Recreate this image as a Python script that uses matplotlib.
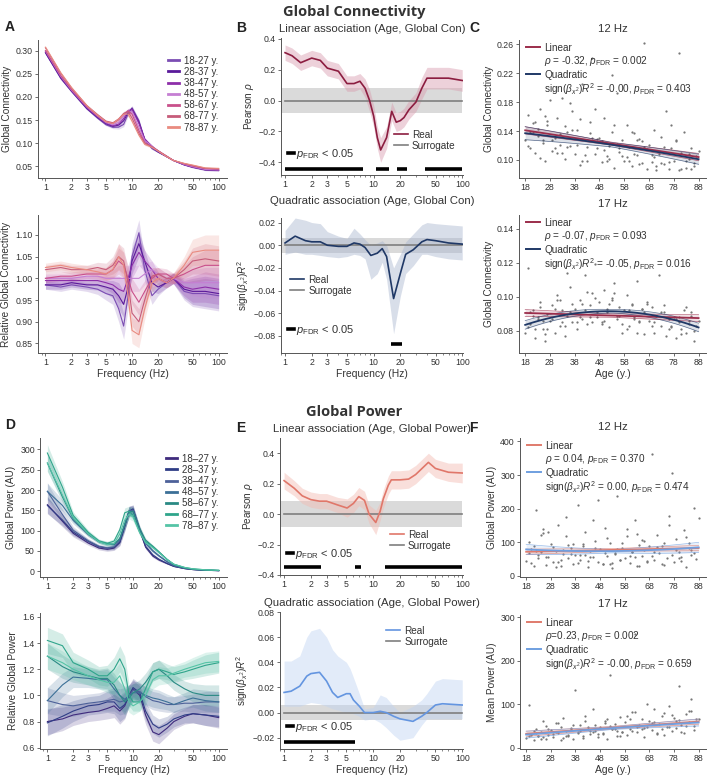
import numpy as np
import matplotlib
matplotlib.use("Agg")
import matplotlib.pyplot as plt
from matplotlib.lines import Line2D
from matplotlib.ticker import FixedLocator, FuncFormatter, NullFormatter, LogLocator

# ---------------- data ----------------
freqs = [1, 1.5, 2, 3, 4, 5, 6, 7, 8, 9, 10, 12, 14, 17, 20, 25, 30, 40, 50, 70, 100]
groups_con = ["18-27 y.", "28-37 y.", "38-47 y.", "48-57 y.", "58-67 y.", "68-77 y.", "78-87 y."]
groups_pow = ["18\u201327 y.", "28\u201337 y.", "38\u201347 y.", "48\u201357 y.", "58\u201367 y.", "68\u201377 y.", "78\u201387 y."]

con_mean = [0.30, 0.245, 0.215, 0.178, 0.158, 0.145, 0.14, 0.145, 0.158, 0.17, 0.168,
            0.135, 0.105, 0.092, 0.083, 0.072, 0.063, 0.055, 0.05, 0.044, 0.043]
con_rel = [
    [0.985, 0.98, 0.985, 0.98, 0.975, 0.965, 0.96, 0.93, 0.89, 0.96, 1.05, 1.105, 1.02, 0.96, 0.975, 0.99, 1.0, 0.97, 0.965, 0.965, 0.96],
    [0.985, 0.985, 0.99, 0.985, 0.985, 0.98, 0.975, 0.96, 0.94, 0.98, 1.04, 1.08, 1.04, 0.99, 0.98, 0.99, 1.0, 0.975, 0.97, 0.97, 0.965],
    [0.995, 0.995, 0.995, 0.995, 0.995, 0.99, 0.985, 0.975, 0.97, 1.0, 1.03, 1.06, 1.04, 1.02, 1.0, 0.99, 1.0, 0.98, 0.975, 0.98, 0.975],
    [1.0, 1.0, 1.0, 1.005, 1.005, 1.0, 1.0, 1.0, 1.0, 1.0, 1.0, 1.0, 1.01, 1.02, 1.01, 1.0, 1.0, 0.99, 0.99, 0.99, 0.99],
    [1.0, 1.005, 1.005, 1.01, 1.01, 1.01, 1.02, 1.04, 1.03, 1.0, 0.97, 0.945, 0.97, 1.0, 1.01, 1.01, 1.0, 1.01, 1.02, 1.03, 1.03],
    [1.02, 1.025, 1.02, 1.02, 1.025, 1.02, 1.03, 1.05, 1.04, 0.99, 0.92, 0.90, 0.95, 1.005, 1.01, 1.0, 1.0, 1.02, 1.04, 1.045, 1.04],
    [1.025, 1.03, 1.025, 1.02, 1.015, 1.01, 1.02, 1.05, 1.03, 0.96, 0.88, 0.87, 0.93, 0.99, 1.0, 0.99, 1.0, 1.03, 1.06, 1.065, 1.065],
]
con_rel_err = [0.01, 0.01, 0.01, 0.01, 0.012, 0.015, 0.02, 0.03, 0.03, 0.03, 0.03,
               0.03, 0.025, 0.02, 0.015, 0.012, 0.012, 0.02, 0.03, 0.035, 0.035]

pow_mean = [205, 150, 110, 80, 65, 60, 62, 80, 120, 148, 145, 100, 70, 52, 40, 25, 15, 8, 5, 3, 2]
pow_rel = [
    [0.80, 0.82, 0.85, 0.87, 0.88, 0.90, 0.92, 0.88, 0.92, 1.0, 1.05, 1.0, 0.85, 0.72, 0.70, 0.75, 0.80, 0.84, 0.86, 0.85, 0.83],
    [0.79, 0.84, 0.88, 0.92, 0.93, 0.95, 0.95, 0.90, 0.93, 1.0, 1.06, 1.02, 0.88, 0.78, 0.75, 0.78, 0.82, 0.85, 0.86, 0.85, 0.84],
    [0.96, 0.93, 0.92, 0.94, 0.95, 0.96, 0.97, 0.95, 0.96, 1.0, 1.04, 1.03, 0.99, 0.96, 0.95, 0.93, 0.93, 0.94, 0.94, 0.95, 0.95],
    [0.96, 1.08, 1.14, 1.13, 1.12, 1.12, 1.05, 1.0, 0.97, 1.0, 1.02, 1.02, 1.0, 0.98, 0.97, 0.95, 0.93, 0.96, 0.98, 0.96, 0.95],
    [1.3, 1.22, 1.18, 1.15, 1.13, 1.13, 1.08, 1.0, 0.95, 0.98, 1.02, 1.05, 1.1, 1.18, 1.2, 1.15, 1.1, 1.05, 1.02, 1.0, 1.0],
    [1.42, 1.38, 1.25, 1.2, 1.15, 1.15, 1.2, 1.28, 1.2, 1.0, 0.95, 0.95, 1.05, 1.18, 1.2, 1.18, 1.16, 1.18, 1.2, 1.23, 1.25],
    [1.3, 1.25, 1.2, 1.15, 1.12, 1.1, 1.1, 1.15, 1.05, 0.95, 0.92, 0.95, 1.0, 1.12, 1.15, 1.15, 1.17, 1.2, 1.22, 1.25, 1.26],
]
pow_rel_err = [0.1, 0.09, 0.08, 0.07, 0.07, 0.08, 0.09, 0.1, 0.1, 0.08, 0.07,
               0.07, 0.07, 0.07, 0.07, 0.06, 0.06, 0.06, 0.07, 0.08, 0.08]

# linear association, connectivity
f_lin_con = [1, 1.2, 1.5, 2, 2.5, 3, 4, 5, 6, 7, 8, 9, 10, 11, 12, 14, 16, 18, 20, 22, 25, 30, 35, 40, 50, 70, 100]
rho_con = [0.31, 0.29, 0.245, 0.275, 0.26, 0.21, 0.19, 0.11, 0.11, 0.125, 0.08, 0.0, -0.1, -0.24, -0.32,
           -0.24, -0.07, -0.14, -0.13, -0.11, -0.06, -0.01, 0.08, 0.145, 0.145, 0.145, 0.13]
rho_con_err = [0.05, 0.05, 0.05, 0.05, 0.05, 0.05, 0.05, 0.05, 0.05, 0.05, 0.06, 0.07, 0.07, 0.07, 0.08,
               0.07, 0.06, 0.06, 0.06, 0.06, 0.06, 0.06, 0.07, 0.07, 0.07, 0.07, 0.07]
surr_lin_con = 0.08
sig_lin_con = [(1, 7.5), (10.5, 15), (18.5, 24), (38, 100)]

# quadratic association, connectivity
f_quad_con = [1, 1.3, 1.7, 2, 2.5, 3, 4, 5, 6, 7, 8, 9.3, 11, 12.5, 14, 16.8, 20, 23, 28, 35, 40, 50, 70, 100]
r2_con = [0.002, 0.008, 0.004, 0.003, 0.003, 0.0, -0.001, -0.001, 0.002, 0.001, -0.002, -0.009,
          -0.007, -0.003, -0.01, -0.047, -0.025, -0.008, -0.004, 0.003, 0.005, 0.004, 0.002, 0.001]
r2_con_hi = [0.013, 0.024, 0.022, 0.02, 0.019, 0.012, 0.008, 0.006, 0.015, 0.01, 0.005, 0.0,
             0.002, 0.004, 0.0, -0.02, -0.008, 0.003, 0.01, 0.018, 0.02, 0.019, 0.018, 0.017]
r2_con_lo = [-0.008, -0.006, -0.008, -0.008, -0.009, -0.01, -0.011, -0.01, -0.008, -0.009, -0.012, -0.03,
             -0.025, -0.015, -0.03, -0.078, -0.045, -0.025, -0.018, -0.008, -0.008, -0.01, -0.012, -0.013]
surr_quad_con = 0.0065
sig_quad_con = [(15.5, 21)]

# linear association, power
f_lin_pow = [1, 1.3, 1.6, 2, 2.5, 3, 4, 5.1, 6, 6.9, 8, 9, 10.7, 12, 13, 14.8, 16, 20, 25, 30, 41.7, 50, 70, 100]
rho_pow = [0.22, 0.17, 0.12, 0.095, 0.085, 0.085, 0.06, 0.04, 0.07, 0.115, 0.09, 0.0, -0.055, 0.02,
           0.1, 0.19, 0.225, 0.225, 0.23, 0.26, 0.34, 0.30, 0.275, 0.27]
rho_pow_err = [0.055, 0.05, 0.05, 0.05, 0.05, 0.05, 0.05, 0.06, 0.06, 0.06, 0.06, 0.06, 0.08, 0.06,
               0.06, 0.06, 0.06, 0.06, 0.06, 0.06, 0.06, 0.06, 0.06, 0.065]
surr_lin_pow = 0.085
sig_lin_pow = [(1, 2.6), (6.3, 7.3), (13.5, 100)]

# quadratic association, power
f_quad_pow = [1, 1.2, 1.5, 1.8, 2, 2.5, 3, 3.5, 4, 5, 5.5, 6, 7, 8, 10, 12, 14, 17, 20, 28, 35, 40, 50, 60, 100]
r2_pow = [0.016, 0.017, 0.021, 0.029, 0.031, 0.032, 0.025, 0.016, 0.012, 0.015, 0.015, 0.01, 0.005,
          0.0, 0.0, 0.001, 0.0, -0.003, -0.005, -0.007, -0.003, 0.0, 0.006, 0.007, 0.006]
r2_pow_hi = [0.041, 0.041, 0.045, 0.06, 0.065, 0.067, 0.06, 0.05, 0.045, 0.04, 0.035, 0.028, 0.015,
             0.003, 0.004, 0.014, 0.012, 0.005, 0.0, 0.005, 0.01, 0.015, 0.025, 0.027, 0.026]
r2_pow_lo = [0.005, 0.005, 0.005, 0.007, 0.008, 0.007, 0.005, 0.003, 0.002, 0.0, 0.0, -0.001, -0.003,
             -0.006, -0.005, -0.008, -0.012, -0.018, -0.022, -0.02, -0.01, -0.005, -0.005, -0.005, -0.005]
surr_quad_pow = 0.006
sig_quad_pow = [(1, 6.3)]

# participants (same people in all scatter panels)
ages = [18, 19, 20, 21, 22, 23, 24, 25, 26, 27,
        28, 29, 30, 31, 32, 33, 34, 35, 36, 37,
        38, 39, 40, 41, 42, 43, 44, 45, 46, 47,
        48, 49, 50, 51, 52, 53, 54, 55, 56, 57,
        58, 59, 60, 61, 62, 63, 64, 65, 66, 67,
        68, 69, 70, 71, 72, 73, 74, 75, 76, 77,
        78, 79, 80, 81, 82, 83, 84, 85, 86, 87,
        19, 21, 24, 26, 29, 31, 34, 36, 39, 41,
        44, 46, 49, 51, 54, 56, 59, 61, 64, 66,
        69, 71, 74, 76, 79, 81, 84, 86, 88, 20,
        23, 27, 30, 33, 37, 40, 43, 47, 50, 53,
        57, 60, 63, 67, 70, 73, 77, 80, 83, 85,
        22, 25, 32, 35, 42, 45, 52, 55, 62, 65]
con_12hz = [0.128, 0.162, 0.117, 0.151, 0.109, 0.143, 0.171, 0.124, 0.098, 0.154,
            0.183, 0.112, 0.131, 0.158, 0.121, 0.186, 0.101, 0.139, 0.119, 0.168,
            0.108, 0.142, 0.093, 0.205, 0.127, 0.118, 0.152, 0.241, 0.171, 0.116,
            0.131, 0.097, 0.158, 0.106, 0.119, 0.138, 0.089, 0.192, 0.111, 0.127,
            0.099, 0.148, 0.118, 0.091, 0.137, 0.107, 0.129, 0.096, 0.262, 0.088,
            0.121, 0.097, 0.141, 0.086, 0.108, 0.132, 0.094, 0.168, 0.087, 0.116,
            0.098, 0.128, 0.086, 0.109, 0.139, 0.089, 0.101, 0.117, 0.091, 0.106,
            0.119, 0.139, 0.102, 0.161, 0.128, 0.109, 0.147, 0.179, 0.121, 0.098,
            0.137, 0.108, 0.126, 0.099, 0.149, 0.116, 0.104, 0.139, 0.095, 0.118,
            0.107, 0.091, 0.118, 0.097, 0.126, 0.088, 0.108, 0.096, 0.112, 0.138,
            0.133, 0.149, 0.117, 0.109, 0.141, 0.157, 0.098, 0.129, 0.114, 0.218,
            0.106, 0.098, 0.127, 0.115, 0.104, 0.096, 0.148, 0.248, 0.099, 0.087,
            0.152, 0.127, 0.136, 0.118, 0.107, 0.131, 0.101, 0.122, 0.108, 0.126]
con_17hz = [0.079, 0.117, 0.084, 0.092, 0.076, 0.088, 0.097, 0.081, 0.074, 0.090,
            0.086, 0.095, 0.079, 0.101, 0.083, 0.092, 0.077, 0.089, 0.106, 0.085,
            0.093, 0.081, 0.098, 0.087, 0.113, 0.084, 0.095, 0.102, 0.119, 0.088,
            0.097, 0.085, 0.104, 0.091, 0.082, 0.099, 0.108, 0.087, 0.094, 0.079,
            0.092, 0.101, 0.083, 0.096, 0.088, 0.109, 0.085, 0.093, 0.078, 0.097,
            0.086, 0.094, 0.079, 0.089, 0.113, 0.083, 0.091, 0.077, 0.087, 0.082,
            0.088, 0.076, 0.085, 0.081, 0.092, 0.079, 0.086, 0.091, 0.074, 0.083,
            0.082, 0.089, 0.094, 0.078, 0.087, 0.098, 0.083, 0.091, 0.085, 0.096,
            0.088, 0.099, 0.084, 0.093, 0.102, 0.089, 0.081, 0.095, 0.086, 0.091,
            0.083, 0.089, 0.095, 0.081, 0.087, 0.078, 0.084, 0.080, 0.086, 0.091,
            0.087, 0.081, 0.093, 0.085, 0.096, 0.088, 0.103, 0.091, 0.086, 0.098,
            0.084, 0.092, 0.079, 0.096, 0.085, 0.091, 0.083, 0.088, 0.094, 0.089,
            0.081, 0.086, 0.098, 0.114, 0.092, 0.085, 0.096, 0.089, 0.087, 0.093]
pow_12hz = [45, 102, 38, 88, 195, 62, 71, 128, 33, 57,
            96, 41, 74, 152, 29, 66, 118, 53, 84, 37,
            61, 212, 47, 89, 132, 28, 74, 56, 103, 42,
            79, 36, 144, 58, 97, 24, 67, 239, 48, 83,
            52, 118, 39, 71, 166, 31, 92, 58, 76, 44,
            88, 362, 47, 123, 69, 35, 97, 54, 178, 63,
            41, 109, 72, 56, 137, 28, 84, 62, 201, 49,
            68, 31, 121, 57, 86, 43, 174, 64, 38, 95,
            55, 82, 37, 113, 66, 48, 141, 72, 29, 104,
            59, 86, 33, 152, 77, 45, 98, 67, 172, 81,
            52, 131, 27, 78, 94, 61, 45, 226, 69, 38,
            97, 58, 126, 42, 71, 89, 305, 53, 115, 76,
            73, 139, 48, 91, 63, 166, 35, 81, 57, 107]
pow_17hz = [22, 98, 31, 18, 44, 27, 35, 62, 19, 29,
            41, 24, 56, 33, 17, 68, 39, 28, 46, 21,
            132, 36, 52, 27, 74, 43, 31, 88, 38, 25,
            47, 33, 61, 19, 168, 42, 55, 28, 71, 37,
            58, 29, 44, 83, 262, 36, 51, 67, 24, 48,
            62, 41, 88, 32, 55, 73, 29, 47, 96, 38,
            69, 45, 141, 53, 34, 78, 58, 112, 41, 65,
            26, 38, 21, 49, 31, 57, 26, 42, 34, 23,
            39, 53, 31, 66, 44, 27, 72, 38, 52, 46,
            57, 34, 79, 48, 62, 36, 84, 51, 67, 30,
            28, 44, 36, 22, 53, 39, 48, 31, 57, 42,
            36, 66, 47, 101, 58, 43, 75, 63, 49, 85,
            33, 25, 47, 29, 61, 35, 49, 38, 81, 44]

# fitted values at ages 18, 53, 88 (and CI half-widths)
fit_ages = [18, 53, 88]
c12_lin, c12_lin_ci = [0.141, 0.1225, 0.104], [0.005, 0.002, 0.005]
c12_quad, c12_quad_ci = [0.137, 0.121, 0.101], [0.009, 0.003, 0.007]
c17_lin, c17_lin_ci = [0.0905, 0.089, 0.0875], [0.002, 0.001, 0.002]
c17_quad, c17_quad_ci = [0.0835, 0.0915, 0.082], [0.0025, 0.001, 0.0025]
p12_lin, p12_lin_ci = [72, 77.5, 83], [8, 4, 8]
p12_quad, p12_quad_ci = [79, 74, 85], [15, 5, 15]
p17_lin, p17_lin_ci = [32, 46, 60], [6, 3, 6]
p17_quad, p17_quad_ci = [30, 45, 58], [8, 3, 8]

# ---------------- style ----------------
plt.rcParams.update({
    "font.family": ["Liberation Sans", "DejaVu Sans"],
    "font.size": 7,
    "mathtext.fontset": "custom",
    "mathtext.rm": "Liberation Sans",
    "mathtext.it": "Liberation Sans:italic",
    "mathtext.bf": "Liberation Sans:bold",
    "text.color": "#333333",
    "axes.labelcolor": "#333333",
    "axes.edgecolor": "#555555",
    "axes.linewidth": 0.7,
    "xtick.color": "#555555",
    "ytick.color": "#555555",
    "xtick.labelcolor": "#333333",
    "ytick.labelcolor": "#333333",
})

W, H = 709, 778
fig = plt.figure(figsize=(W / 100, H / 100), dpi=100)


def box(l, t, r, b):
    ax = fig.add_axes([l / W, 1 - b / H, (r - l) / W, (b - t) / H])
    ax.spines["top"].set_visible(False)
    ax.spines["right"].set_visible(False)
    ax.tick_params(which="major", length=2.5, width=0.6, labelsize=6.3, pad=1.2)
    ax.tick_params(which="minor", length=1.5, width=0.5)
    return ax


def yfmt(ax, ticks, nd):
    ax.set_yticks(ticks)
    ax.yaxis.set_major_formatter(FuncFormatter(lambda v, p: f"{v:.{nd}f}".replace("-", "\u2212")))


def freq_axis(ax, lim):
    ax.set_xscale("log")
    ax.set_xlim(lim)
    ax.xaxis.set_major_locator(FixedLocator([1, 2, 3, 5, 10, 20, 50, 100]))
    ax.xaxis.set_major_formatter(FuncFormatter(lambda v, p: f"{v:g}"))
    ax.xaxis.set_minor_locator(LogLocator(subs=np.arange(2, 10)))
    ax.xaxis.set_minor_formatter(NullFormatter())


def age_axis(ax):
    ax.set_xlim(15.5, 91)
    ax.set_xticks(range(18, 89, 10))


def group_panel(ax, rel, err, base, colors, labels, legend):
    f = np.array(freqs)
    for i in range(len(rel)):
        y = np.array(rel[i]) * (np.array(base) if base is not None else 1)
        e = np.array(err) * (np.array(base) if base is not None else 1)
        ax.fill_between(f, y - e, y + e, color=colors[i], alpha=0.2, lw=0)
        ax.plot(f, y, color=colors[i], lw=0.8)
    if legend:
        hs = [Line2D([], [], color=c, lw=2) for c in colors]
        ax.legend(hs, labels, loc="upper right", bbox_to_anchor=(1.0, 0.95), frameon=False,
                  fontsize=7, handlelength=1.1, handletextpad=0.5, labelspacing=0.12)


def assoc_panel(ax, f, y, lo, hi, color, band, surr, sig, sig_y, leg_xy, p_xy):
    ax.fill_between(f, lo, hi, color=band, alpha=0.45, lw=0, zorder=2)
    ax.fill_between([0.9, 100], -surr, surr, color="#bdbdbd", alpha=0.55, lw=0, zorder=1)
    ax.plot([1, 100], [0, 0], color="#7f7f7f", lw=1.2, zorder=3)
    ax.plot(f, y, color=color, lw=1.2, zorder=4)
    for a, b in sig:
        ax.hlines(sig_y, a, b, color="black", lw=2.6, zorder=5)
    leg = ax.legend([Line2D([], [], color=color, lw=1.2), Line2D([], [], color="#7f7f7f", lw=1.2)],
                    ["Real", "Surrogate"], loc="upper left", bbox_to_anchor=leg_xy, frameon=False,
                    fontsize=7.2, handlelength=1.4, handletextpad=0.4, labelspacing=0.1,
                    borderaxespad=0, borderpad=0)
    ax.add_artist(leg)
    ax.legend([Line2D([], [], color="black", lw=2.6)], [r"$p_{\mathrm{FDR}}$ < 0.05"],
              loc="lower left", bbox_to_anchor=p_xy, frameon=False, fontsize=8,
              handlelength=0.5, handletextpad=0.2, borderaxespad=0, borderpad=0)


def fit_panel(ax, vals, lin, lin_ci, quad, quad_ci, c_lin, c_quad, txt_lin, txt_quad):
    ax.scatter(ages, vals, s=2.6, color="#777777", lw=0, zorder=1)
    xs = np.linspace(18, 88, 60)
    for v, ci, c, deg in ((lin, lin_ci, c_lin, 1), (quad, quad_ci, c_quad, 2)):
        yy = np.polyval(np.polyfit(fit_ages, v, deg), xs)
        ee = np.interp(xs, fit_ages, ci)
        ax.fill_between(xs, yy - ee, yy + ee, color=c, alpha=0.15, lw=0, zorder=2)
        ax.plot(xs, yy - ee, color=c, lw=0.5, alpha=0.7, zorder=3)
        ax.plot(xs, yy + ee, color=c, lw=0.5, alpha=0.7, zorder=3)
        ax.plot(xs, yy, color=c, lw=1.3, zorder=4)
    blank = Line2D([], [], color="none")
    ax.legend([Line2D([], [], color=c_lin, lw=1.4), blank, Line2D([], [], color=c_quad, lw=1.4), blank],
              ["Linear", txt_lin, "Quadratic", txt_quad], loc="upper left", bbox_to_anchor=(0.04, 0.98),
              frameon=False, fontsize=7.2, handlelength=1.4, handletextpad=0.4, labelspacing=0.15,
              borderaxespad=0, borderpad=0)


con_colors = ["#7b4db3", "#5a1a9a", "#8d2fa9", "#c57fd3", "#c9508b", "#c65c7a", "#e98b80"]
pow_colors = ["#3f2b7d", "#2f3d86", "#4d6199", "#3c7097", "#2a8a84", "#2fa58b", "#55c4a6"]

# ---------------- titles ----------------
fig.text(0.5, 1 - 12 / H, "Global Connectivity", ha="center", va="center", fontsize=10.5,
         fontweight="bold", family="Open Sans")
fig.text(0.5, 1 - 412 / H, "Global Power", ha="center", va="center", fontsize=10.5,
         fontweight="bold", family="Open Sans")
for lab, x, y in (("A", 5, 27), ("B", 236, 28), ("C", 469, 28), ("D", 5, 425), ("E", 236, 428), ("F", 469, 428)):
    fig.text(x / W, 1 - y / H, lab, ha="left", va="center", fontsize=10, fontweight="bold", color="#222222")

# ---------------- A ----------------
ax = box(38, 40, 227, 178)
group_panel(ax, con_rel, con_rel_err, con_mean, con_colors, groups_con, True)
freq_axis(ax, (0.82, 125))
ax.set_ylim(0.025, 0.323)
yfmt(ax, [0.05, 0.10, 0.15, 0.20, 0.25, 0.30], 2)
ax.set_ylabel("Global Connectivity", fontsize=7.2, labelpad=3)

ax = box(38, 215, 227, 353)
group_panel(ax, con_rel, con_rel_err, None, con_colors, groups_con, False)
freq_axis(ax, (0.82, 125))
ax.set_ylim(0.828, 1.146)
yfmt(ax, [0.85, 0.90, 0.95, 1.00, 1.05, 1.10], 2)
ax.set_ylabel("Relative Global Connectivity", fontsize=7.2, labelpad=3)
ax.set_xlabel("Frequency (Hz)", fontsize=7.5, labelpad=1)

# ---------------- B ----------------
ax = box(281, 38, 463, 175)
f = np.array(f_lin_con)
r = np.array(rho_con)
e = np.array(rho_con_err)
assoc_panel(ax, f, r, r - e, r + e, "#8c1d40", "#d89aad", surr_lin_con, sig_lin_con, -0.44,
            (0.62, 0.33), (0.04, 0.1))
freq_axis(ax, (0.9, 102))
ax.set_ylim(-0.482, 0.405)
yfmt(ax, [-0.4, -0.2, 0.0, 0.2, 0.4], 1)
ax.set_ylabel(r"Pearson $\rho$", fontsize=7.2, labelpad=2)
ax.set_title("Linear association (Age, Global Con)", fontsize=8.2, pad=4)

ax = box(281, 218, 463, 353)
assoc_panel(ax, f_quad_con, r2_con, r2_con_lo, r2_con_hi, "#1f3866", "#a9b6cf", surr_quad_con,
            sig_quad_con, -0.087, (0.05, 0.58), (0.04, 0.12))
freq_axis(ax, (0.9, 102))
ax.set_ylim(-0.095, 0.024)
yfmt(ax, [-0.08, -0.06, -0.04, -0.02, 0.00, 0.02], 2)
ax.set_ylabel(r"sign($\beta_{x^2}$)$R^2$", fontsize=7.2, labelpad=2)
ax.set_xlabel("Frequency (Hz)", fontsize=7.5, labelpad=1)
ax.set_title("Quadratic association (Age, Global Con)", fontsize=8.2, pad=10)

# ---------------- C ----------------
ax = box(519, 40, 706, 178)
fit_panel(ax, con_12hz, c12_lin, c12_lin_ci, c12_quad, c12_quad_ci, "#9b2d4b", "#1f3866",
          r"$\rho$ = -0.32, $p_{\mathrm{FDR}}$ = 0.002",
          r"sign($\beta_{x^2}$)$R^2$ = -0.00, $p_{\mathrm{FDR}}$ = 0.403")
age_axis(ax)
ax.set_ylim(0.075, 0.266)
yfmt(ax, [0.10, 0.14, 0.18, 0.22, 0.26], 2)
ax.set_ylabel("Global Connectivity", fontsize=7.2, labelpad=2)
ax.set_title("12 Hz", fontsize=8.2, pad=6)

ax = box(519, 215, 706, 353)
fit_panel(ax, con_17hz, c17_lin, c17_lin_ci, c17_quad, c17_quad_ci, "#9b2d4b", "#1f3866",
          r"$\rho$ = -0.07, $p_{\mathrm{FDR}}$ = 0.093",
          r"sign($\beta_{x^2}$)$R^2$ = -0.05, $p_{\mathrm{FDR}}$ = 0.016")
age_axis(ax)
ax.set_ylim(0.067, 0.148)
yfmt(ax, [0.08, 0.10, 0.12, 0.14], 2)
ax.set_ylabel("Global Connectivity", fontsize=7.2, labelpad=2)
ax.set_xlabel("Age (y.)", fontsize=7.5, labelpad=1)
ax.set_title("17 Hz", fontsize=8.2, pad=6)

# ---------------- D ----------------
ax = box(40, 438, 227, 577)
group_panel(ax, pow_rel, pow_rel_err, pow_mean, pow_colors, groups_pow, True)
freq_axis(ax, (0.82, 125))
ax.set_ylim(-14, 328)
yfmt(ax, [0, 50, 100, 150, 200, 250, 300], 0)
ax.set_ylabel("Global Power (AU)", fontsize=7.2, labelpad=3)

ax = box(40, 613, 227, 749)
group_panel(ax, pow_rel, pow_rel_err, None, pow_colors, groups_pow, False)
freq_axis(ax, (0.82, 125))
ax.set_ylim(0.59, 1.63)
yfmt(ax, [0.6, 0.8, 1.0, 1.2, 1.4, 1.6], 1)
ax.set_ylabel("Relative Global Power", fontsize=7.2, labelpad=3)
ax.set_xlabel("Frequency (Hz)", fontsize=7.5, labelpad=1)

# ---------------- E ----------------
ax = box(280, 438, 463, 575)
f = np.array(f_lin_pow)
r = np.array(rho_pow)
e = np.array(rho_pow_err)
assoc_panel(ax, f, r, r - e, r + e, "#e0776a", "#f3b9b0", surr_lin_pow, sig_lin_pow, -0.345,
            (0.6, 0.33), (0.04, 0.1))
freq_axis(ax, (0.9, 102))
ax.set_ylim(-0.4, 0.5)
yfmt(ax, [-0.4, -0.2, 0.0, 0.2, 0.4], 1)
ax.set_ylabel(r"Pearson $\rho$", fontsize=7.2, labelpad=2)
ax.set_title("Linear association (Age, Global Power)", fontsize=8.2, pad=4)

ax = box(280, 612, 463, 749)
assoc_panel(ax, f_quad_pow, r2_pow, r2_pow_lo, r2_pow_hi, "#6495e0", "#bfd3f2", surr_quad_pow,
            sig_quad_pow, -0.0235, (0.58, 0.9), (0.04, 0.11))
freq_axis(ax, (0.9, 102))
ax.set_ylim(-0.029, 0.08)
yfmt(ax, [-0.02, 0.00, 0.02, 0.04, 0.06, 0.08], 2)
ax.set_ylabel(r"sign($\beta_{x^2}$)$R^2$", fontsize=7.2, labelpad=2)
ax.set_xlabel("Frequency (Hz)", fontsize=7.5, labelpad=1)
ax.set_title("Quadratic association (Age, Global Power)", fontsize=8.2, pad=4)

# ---------------- F ----------------
ax = box(520, 438, 706, 577)
fit_panel(ax, pow_12hz, p12_lin, p12_lin_ci, p12_quad, p12_quad_ci, "#e07b6c", "#6f9fe0",
          r"$\rho$ = 0.04, $p_{\mathrm{FDR}}$ = 0.370",
          r"sign($\beta_{x^2}$)$R^2$ = 0.00, $p_{\mathrm{FDR}}$ = 0.474")
age_axis(ax)
ax.set_ylim(-3, 410)
yfmt(ax, [0, 100, 200, 300, 400], 0)
ax.set_ylabel("Global Power (AU)", fontsize=7.2, labelpad=2)
ax.set_title("12 Hz", fontsize=8.2, pad=6)

ax = box(520, 615, 706, 749)
fit_panel(ax, pow_17hz, p17_lin, p17_lin_ci, p17_quad, p17_quad_ci, "#e07b6c", "#6f9fe0",
          r"$\rho$=0.23, $p_{\mathrm{FDR}}$ = 0.002",
          r"sign($\beta_{x^2}$)$R^2$ = -0.00, $p_{\mathrm{FDR}}$ = 0.659")
age_axis(ax)
ax.set_ylim(-3, 305)
yfmt(ax, [0, 100, 200, 300], 0)
ax.set_ylabel("Mean Power (AU)", fontsize=7.2, labelpad=2)
ax.set_xlabel("Age (y.)", fontsize=7.5, labelpad=1)
ax.set_title("17 Hz", fontsize=8.2, pad=6)

fig.savefig("out.png", dpi=100)
